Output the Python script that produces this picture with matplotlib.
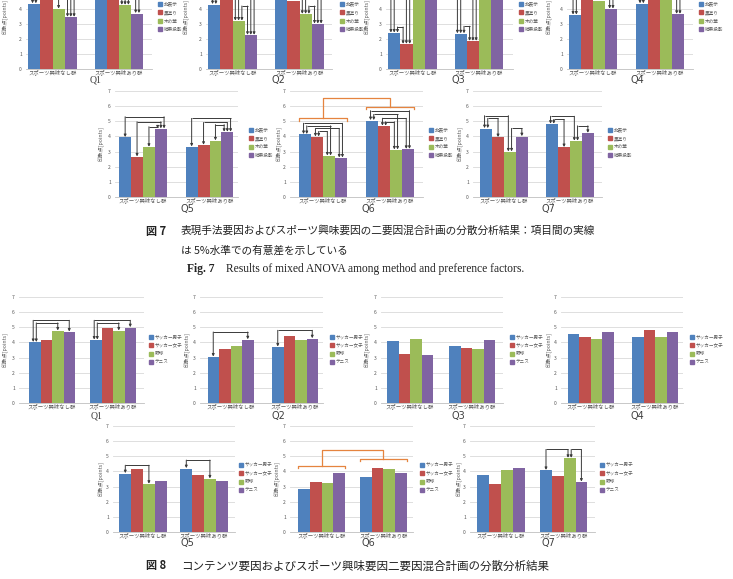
import numpy as np
import matplotlib
matplotlib.use('Agg')
import matplotlib.pyplot as plt
from matplotlib.patches import Rectangle

plt.rcParams['font.family'] = ['Noto Sans CJK JP', 'DejaVu Sans']

W, H = 733, 579
fig = plt.figure(figsize=(W / 100, H / 100), dpi=100)

COLORS = ['#4F81BD', '#C0504D', '#9BBB59', '#8064A2']
GROUPS = ['スポーツ興味なし群', 'スポーツ興味あり群']
FIG7_LEGEND = ['非表示', '黒塗り', '木の葉', '結果投影']
FIG8_LEGEND = ['サッカー男子', 'サッカー女子', '野球', 'テニス']
YLABEL = '印象点[points]'
YTICKS = [0, 1, 2, 3, 4, 5, 6, 7]

# ---- Fig. 7 data : [興味なし群, 興味あり群], each [非表示, 黒塗り, 木の葉, 結果投影]
f7_q1 = [[4.35, 5.3, 4.0, 3.45], [5.2, 5.4, 4.25, 3.7]]
f7_q2 = [[4.3, 5.0, 3.2, 2.25], [5.1, 4.55, 3.65, 3.0]]
f7_q3 = [[2.4, 1.65, 5.2, 5.4], [2.35, 1.85, 5.1, 5.5]]
f7_q4 = [[3.6, 5.0, 4.55, 4.0], [4.35, 5.1, 5.0, 3.65]]
f7_q5 = [[3.93, 2.65, 3.29, 4.5], [3.31, 3.42, 3.71, 4.28]]
f7_q6 = [[4.13, 3.97, 2.71, 2.58], [5.05, 4.68, 3.11, 3.15]]
f7_q7 = [[4.52, 3.93, 2.98, 3.99], [4.81, 3.27, 3.69, 4.21]]

# ---- Fig. 8 data : [興味なし群, 興味あり群], each [サッカー男子, サッカー女子, 野球, テニス]
f8_q1 = [[4.0, 4.14, 4.76, 4.69], [4.16, 4.93, 4.76, 4.98]]
f8_q2 = [[3.04, 3.57, 3.79, 4.18], [3.7, 4.4, 4.18, 4.25]]
f8_q3 = [[4.07, 3.24, 4.25, 3.2], [3.79, 3.63, 3.59, 4.16]]
f8_q4 = [[4.54, 4.38, 4.2, 4.71], [4.38, 4.8, 4.38, 4.69]]
f8_q5 = [[3.86, 4.13, 3.16, 3.36], [4.19, 3.77, 3.51, 3.36]]
f8_q6 = [[2.82, 3.3, 3.26, 3.9], [3.66, 4.23, 4.14, 3.88]]
f8_q7 = [[3.79, 3.15, 4.12, 4.23], [4.07, 3.7, 4.87, 3.3]]

# significant pairs: (group, bar_i, bar_j, bracket height)
f7_q1_sig = [(0, 0, 1, 5.7), (0, 0, 3, 6.3), (0, 1, 3, 6.0), (0, 2, 3, 5.0),
             (1, 0, 2, 6.2), (1, 1, 2, 5.9), (1, 2, 3, 5.0), (1, 1, 3, 6.5)]
f7_q2_sig = [(0, 0, 2, 5.9), (0, 0, 3, 6.3), (0, 1, 2, 5.5), (0, 1, 3, 6.1), (0, 2, 3, 4.2),
             (1, 0, 2, 6.0), (1, 0, 3, 6.3), (1, 1, 2, 5.0), (1, 1, 3, 5.2), (1, 2, 3, 4.2)]
f7_q3_sig = [(0, 0, 1, 2.8), (0, 0, 2, 6.0), (0, 0, 3, 6.3), (0, 1, 2, 5.6), (0, 1, 3, 5.8),
             (1, 0, 1, 2.85), (1, 0, 2, 6.0), (1, 0, 3, 6.3), (1, 1, 2, 5.6), (1, 1, 3, 5.8)]
f7_q4_sig = [(0, 0, 1, 5.6), (0, 0, 2, 5.9), (0, 1, 3, 5.4), (0, 2, 3, 5.0),
             (1, 0, 1, 5.8), (1, 0, 2, 6.1), (1, 1, 3, 5.6), (1, 2, 3, 5.4)]
f7_q5_sig = [(0, 0, 3, 5.3), (0, 1, 3, 4.97), (0, 2, 3, 4.64),
             (1, 0, 3, 5.19), (1, 1, 3, 4.92), (1, 2, 3, 4.78)]
f7_q6_sig = [(0, 0, 3, 4.87), (0, 0, 2, 4.7), (0, 1, 3, 4.53), (0, 1, 2, 4.33),
             (1, 0, 3, 5.7), (1, 0, 2, 5.45), (1, 1, 3, 5.2), (1, 1, 2, 4.97)]
f7_q7_sig = [(0, 0, 2, 5.37), (0, 0, 1, 5.19), (0, 2, 3, 4.53),
             (1, 0, 2, 5.33), (1, 0, 1, 5.12), (1, 2, 3, 4.7)]
f8_q1_sig = [(0, 0, 3, 5.46), (0, 0, 2, 5.29), (1, 0, 3, 5.46), (1, 0, 2, 5.29)]
f8_q2_sig = [(0, 0, 3, 4.69), (1, 0, 3, 4.8)]
f8_q5_sig = [(0, 0, 2, 4.41), (1, 0, 2, 4.75)]
f8_q7_sig = [(1, 0, 2, 5.45), (1, 2, 3, 5.45)]

# main-effect (group) brackets: (group1 level, group2 level, connector level)
f7_q6_main = (5.2, 5.93, 6.56)
f8_q6_main = (4.36, 4.85, 5.42)

LINE_C = '#3a3a3a'
ORANGE = '#E5843F'
TXT_C = '#595959'


def px_axes(left, right, zero_y, top_y):
    return fig.add_axes([left / W, 1 - zero_y / H, (right - left) / W, (zero_y - top_y) / H])


def draw_chart(spec, values, legend, sig, title, main=None, title_font='DejaVu Sans'):
    left, right, g1c, g2c, zero_y, top_y, bw_px, leg_x, leg_ys, tx, ty, ylx = spec
    pxu = g2c - g1c
    ax = px_axes(left, right, zero_y, top_y)
    ax.set_xlim((left - g1c) / pxu, (right - g1c) / pxu)
    ax.set_ylim(0, 7)
    bw = bw_px / pxu
    xs = np.arange(2)
    for k in range(4):
        ax.bar(xs + (k - 1.5) * bw, [values[0][k], values[1][k]], width=bw,
               color=COLORS[k], linewidth=0, zorder=2)
    ax.set_yticks(YTICKS)
    ax.set_yticklabels([str(t) for t in YTICKS], fontsize=3.6, color=TXT_C)
    ax.yaxis.grid(True, color='#D9D9D9', lw=0.6, zorder=0)
    ax.set_axisbelow(True)
    for s in ['left', 'right', 'top']:
        ax.spines[s].set_visible(False)
    ax.spines['bottom'].set_color('#BFBFBF')
    ax.spines['bottom'].set_linewidth(0.6)
    ax.set_xticks(xs)
    ax.set_xticklabels(GROUPS, fontsize=3.9, color=TXT_C)
    ax.tick_params(axis='x', length=0, pad=0.6)
    ax.tick_params(axis='y', length=0, pad=3)
    ax.patch.set_alpha(0)

    # significance brackets
    ends = {}
    for (g, i, j, h) in sig:
        ends.setdefault((g, i), []).append(('out', h, (g, i, j, h)))
        ends.setdefault((g, j), []).append(('in', h, (g, i, j, h)))
    xpos = {}
    for (g, b), lst in ends.items():
        inc = sorted([e for e in lst if e[0] == 'in'], key=lambda e: e[1])
        out = sorted([e for e in lst if e[0] == 'out'], key=lambda e: -e[1])
        order = inc + out
        n = len(order)
        sp = bw * 0.27
        cx = g + (b - 1.5) * bw
        for idx, e in enumerate(order):
            xpos[(e[2], b)] = cx + (idx - (n - 1) / 2) * sp
    for key in sig:
        g, i, j, h = key
        xa, xb = xpos[(key, i)], xpos[(key, j)]
        ax.plot([xa, xb], [h, h], color=LINE_C, lw=0.7, zorder=3, clip_on=False,
                solid_capstyle='butt')
        for b, xx in ((i, xa), (j, xb)):
            ax.annotate('', xy=(xx, values[g][b] + 0.03), xytext=(xx, h),
                        arrowprops=dict(arrowstyle='-|>', lw=0.7, color=LINE_C,
                                        mutation_scale=3.5, shrinkA=0, shrinkB=0),
                        annotation_clip=False, zorder=3)
    if main is not None:
        l1, l2, lc = main
        tick = 0.15
        for g, lev in ((0, l1), (1, l2)):
            xa, xb = g - 2 * bw, g + 2 * bw
            ax.plot([xa, xa, xb, xb], [lev - tick, lev, lev, lev - tick], color=ORANGE,
                    lw=0.9, zorder=3)
        ax.plot([0, 0, 1, 1], [l1, lc, lc, l2], color=ORANGE, lw=0.9, zorder=3)

    # legend
    for k in range(4):
        fig.patches.append(Rectangle((leg_x / W, 1 - (leg_ys[k] + 2) / H), 4 / W, 4 / H,
                                     transform=fig.transFigure, color=COLORS[k]))
        fig.text((leg_x + 5.5) / W, 1 - leg_ys[k] / H, legend[k], fontsize=3.3,
                 color=TXT_C, va='center', ha='left')
    # y label
    yc = (zero_y + top_y) / 2
    fig.text(ylx / W, 1 - yc / H, YLABEL, rotation=90, fontsize=3.8, color=TXT_C,
             ha='center', va='center')
    fig.text(tx / W, 1 - ty / H, title, fontsize=7, color='#404040', ha='center',
             va='center', family=title_font)
    return ax


# layout specs: left, right, g1 center, g2 center, zero y, "7" y, bar width,
#               legend x, legend ys, title x, title y, ylabel x   (all pixels)
R1 = (69, -36)
LY1 = [4, 12.3, 20.7, 29]
R2 = (197, 91)
LY2 = [130, 138.3, 146.6, 155]
R3 = (403, 297)
LY3 = [337, 345.3, 353.6, 362]
R4 = (532, 426)
LY4 = [464.5, 473, 481.5, 490]

draw_chart((26, 152, 52.5, 119, *R1, 12.2, 158, LY1, 96, 80.5, 5), f7_q1, FIG7_LEGEND, f7_q1_sig, 'Q1',
           title_font='Liberation Serif')
draw_chart((206, 332, 232.5, 299.5, *R1, 12.2, 340, LY1, 278, 80.5, 186), f7_q2, FIG7_LEGEND, f7_q2_sig, 'Q2')
draw_chart((386, 513, 412.5, 479, *R1, 12.2, 519, LY1, 458, 80.5, 367), f7_q3, FIG7_LEGEND, f7_q3_sig, 'Q3')
draw_chart((567, 693, 593, 660, *R1, 12.2, 699, LY1, 637, 80.5, 549), f7_q4, FIG7_LEGEND, f7_q4_sig, 'Q4')

draw_chart((115, 238, 143, 209.5, *R2, 11.9, 249, LY2, 187, 209, 101), f7_q5, FIG7_LEGEND, f7_q5_sig, 'Q5')
draw_chart((290, 423, 323, 390, *R2, 11.9, 429, LY2, 368, 209, 279), f7_q6, FIG7_LEGEND, f7_q6_sig, 'Q6',
           main=f7_q6_main)
draw_chart((473, 602, 504, 570, *R2, 11.9, 608, LY2, 548, 209, 460), f7_q7, FIG7_LEGEND, f7_q7_sig, 'Q7')

draw_chart((19, 144, 52, 113, *R3, 11.5, 149, LY3, 97, 416, 5), f8_q1, FIG8_LEGEND, f8_q1_sig, 'Q1',
           title_font='Liberation Serif')
draw_chart((200, 323, 230.5, 295, *R3, 11.5, 330, LY3, 278, 416, 187), f8_q2, FIG8_LEGEND, f8_q2_sig, 'Q2')
draw_chart((381, 503, 410, 472, *R3, 11.5, 510, LY3, 458, 416, 367), f8_q3, FIG8_LEGEND, [], 'Q3')
draw_chart((561, 683, 590.5, 655, *R3, 11.5, 690, LY3, 637, 416, 549), f8_q4, FIG8_LEGEND, [], 'Q4')

draw_chart((113, 235, 143, 204, *R4, 11.8, 239, LY4, 187, 543, 101), f8_q5, FIG8_LEGEND, f8_q5_sig, 'Q5')
draw_chart((290, 413, 321.5, 383.3, *R4, 11.8, 420, LY4, 368, 543, 277), f8_q6, FIG8_LEGEND, [], 'Q6',
           main=f8_q6_main)
draw_chart((470, 595, 501, 563.7, *R4, 11.8, 600, LY4, 548, 543, 459), f8_q7, FIG8_LEGEND, f8_q7_sig, 'Q7')

# captions
CAP_C = '#222222'
fig.text(146 / W, 1 - 231 / H, '図 7', fontsize=8, color=CAP_C, va='center', weight='bold')
fig.text(181 / W, 1 - 231 / H, '表現手法要因およびスポーツ興味要因の二要因混合計画の分散分析結果：項目間の実線',
         fontsize=7.7, color=CAP_C, va='center')
fig.text(181 / W, 1 - 251 / H, 'は 5%水準での有意差を示している', fontsize=7.7, color=CAP_C, va='center')
fig.text(187 / W, 1 - 269 / H, 'Fig. 7', fontsize=8.3, color=CAP_C, va='center', weight='bold',
         family='Liberation Serif')
fig.text(226 / W, 1 - 269 / H, 'Results of mixed ANOVA among method and preference factors.',
         fontsize=8.3, color=CAP_C, va='center', family='Liberation Serif')
fig.text(146 / W, 1 - 566 / H, '図 8', fontsize=8, color=CAP_C, va='center', weight='bold')
fig.text(181 / W, 1 - 566 / H, 'コンテンツ要因およびスポーツ興味要因二要因混合計画の分散分析結果',
         fontsize=8.3, color=CAP_C, va='center')

fig.savefig('out.png', dpi=100, facecolor='white')
